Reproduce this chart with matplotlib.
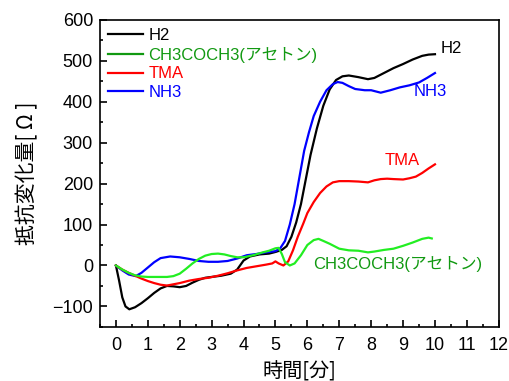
import matplotlib
matplotlib.use("Agg")
import matplotlib.pyplot as plt
from matplotlib.lines import Line2D
from matplotlib.ticker import MultipleLocator

plt.rcParams['font.family'] = ['Liberation Sans', 'Noto Sans CJK JP', 'DejaVu Sans']

# ---- data (time in minutes, resistance change in ohm) ----
t_h2 = [0, 0.1, 0.2, 0.3, 0.42, 0.6, 0.8, 1.0, 1.2, 1.4, 1.6, 1.8, 2.0, 2.2, 2.4, 2.6, 2.8, 3.0,
        3.3, 3.6, 3.8, 4.0, 4.2, 4.5, 4.8, 5.0, 5.2, 5.35, 5.5, 5.65, 5.8, 5.95, 6.1, 6.3, 6.5,
        6.7, 6.9, 7.1, 7.3, 7.6, 7.9, 8.1, 8.4, 8.7, 9.0, 9.3, 9.6, 9.8, 10.0]
v_h2 = [0, -37, -78, -100, -107, -102, -92, -80, -67, -56, -50, -51, -53, -50, -42, -35, -30, -28,
        -25, -20, -10, 12, 22, 27, 29, 33, 38, 47, 70, 105, 150, 210, 270, 335, 390,
        430, 453, 462, 464, 460, 455, 458, 470, 482, 492, 503, 512, 515, 516]

t_ace = [0, 0.2, 0.4, 0.6, 0.8, 1.0, 1.3, 1.6, 1.8, 2.0, 2.2, 2.4, 2.6, 2.8, 3.0, 3.2, 3.4, 3.6,
         3.8, 4.0, 4.3, 4.6, 4.8, 5.0, 5.1, 5.2, 5.3, 5.45, 5.6, 5.8, 6.0, 6.2, 6.35, 6.5, 6.7,
         7.0, 7.3, 7.6, 7.9, 8.1, 8.4, 8.7, 9.0, 9.3, 9.6, 9.8, 9.9]
v_ace = [0, -10, -18, -24, -27, -28, -28, -28, -26, -20, -8, 5, 16, 24, 28, 29, 27, 23,
         20, 20, 25, 32, 36, 42, 43, 28, 8, 0, 5, 25, 50, 62, 65, 60, 53,
         41, 37, 36, 32, 34, 38, 41, 48, 56, 65, 68, 66]

t_tma = [0, 0.2, 0.4, 0.6, 0.8, 1.0, 1.2, 1.4, 1.6, 1.8, 2.0, 2.3, 2.6, 2.9, 3.2, 3.5, 3.8, 4.1,
         4.4, 4.7, 4.9, 5.0, 5.1, 5.25, 5.4, 5.55, 5.7, 5.87, 6.0, 6.2, 6.4, 6.6, 6.8, 7.0, 7.3,
         7.6, 7.9, 8.1, 8.3, 8.5, 8.7, 9.0, 9.2, 9.4, 9.6, 9.8, 10.0]
v_tma = [0, -10, -18, -25, -32, -38, -43, -47, -49, -46, -43, -37, -33, -30, -25, -19, -12, -6,
         -2, 2, 5, 10, 5, 0, 10, 37, 70, 102, 128, 155, 177, 193, 203, 206, 206,
         205, 203, 208, 211, 212, 211, 210, 213, 217, 226, 237, 247]

t_nh3 = [0, 0.2, 0.4, 0.62, 0.8, 1.0, 1.2, 1.4, 1.7, 2.0, 2.3, 2.6, 2.9, 3.2, 3.5, 3.8, 4.1, 4.4,
         4.7, 5.0, 5.15, 5.3, 5.45, 5.6, 5.75, 5.9, 6.05, 6.2, 6.4, 6.6, 6.8, 6.95, 7.1, 7.3, 7.5,
         7.8, 8.0, 8.3, 8.6, 8.9, 9.2, 9.5, 9.75, 10.0]
v_nh3 = [0, -12, -22, -26, -18, -5, 8, 18, 22, 20, 16, 11, 9, 9, 11, 17, 25, 28,
         32, 35, 42, 60, 100, 150, 215, 280, 325, 365, 400, 428, 443, 448, 446, 438, 431,
         428, 428, 422, 428, 435, 440, 447, 458, 470]

series_labels = ['H2', 'CH3COCH3(アセトン)', 'TMA', 'NH3']
line_colors = ['black', '#22ee22', '#ff0000', '#0000ff']
text_colors = ['black', '#119911', '#ff0000', '#0000ff']
x_ticks = list(range(0, 13))
y_ticks = list(range(-100, 601, 100))

fig = plt.figure(figsize=(5.10, 3.81), dpi=100)
ax = fig.add_axes([0.196, 0.142, 0.782, 0.806])

lw = 1.6
ax.plot(t_h2, v_h2, color=line_colors[0], lw=lw)
ax.plot(t_nh3, v_nh3, color=line_colors[3], lw=lw)
ax.plot(t_tma, v_tma, color=line_colors[2], lw=lw)
ax.plot(t_ace, v_ace, color=line_colors[1], lw=lw)

ax.set_xlim(-0.5, 12)
ax.set_ylim(-150, 600)
ax.set_xticks(x_ticks)
ax.set_yticks(y_ticks)
ax.xaxis.set_minor_locator(MultipleLocator(0.5))
ax.yaxis.set_minor_locator(MultipleLocator(50))
ax.tick_params(which='both', direction='in', labelsize=13, width=1.2)
ax.tick_params(which='major', length=5)
ax.tick_params(which='minor', length=2.5)
ax.tick_params(axis='x', pad=7)
ax.tick_params(axis='y', pad=5)
for s in ax.spines.values():
    s.set_linewidth(1.2)

handles = [Line2D([], [], color=c, lw=1.6) for c in text_colors]
leg = ax.legend(handles, series_labels, loc='upper left', frameon=False,
                fontsize=12, handlelength=2.1, handletextpad=0.3, labelspacing=0.22,
                borderaxespad=0.1, bbox_to_anchor=(0.0, 1.0))
for txt, c in zip(leg.get_texts(), text_colors):
    txt.set_color(c)

ax.text(10.19, 531, series_labels[0], color=text_colors[0], fontsize=12, ha='left', va='center')
ax.text(9.32, 426, series_labels[3], color=text_colors[3], fontsize=12, ha='left', va='center')
ax.text(8.41, 256, series_labels[2], color=text_colors[2], fontsize=12, ha='left', va='center')
ax.text(6.18, 4, series_labels[1], color=text_colors[1], fontsize=12, ha='left', va='center')

cjk = ['Noto Sans CJK JP', 'DejaVu Sans']
fig.text(27 / 510, 1 - 173 / 381, '抵抗変化量[ Ω ]', rotation=90, fontsize=15,
         ha='center', va='center', family=cjk)
fig.text(299 / 510, 1 - 372 / 381, '時間[分]', fontsize=14.5,
         ha='center', va='center', family=cjk)

fig.savefig('out.png', dpi=100)
